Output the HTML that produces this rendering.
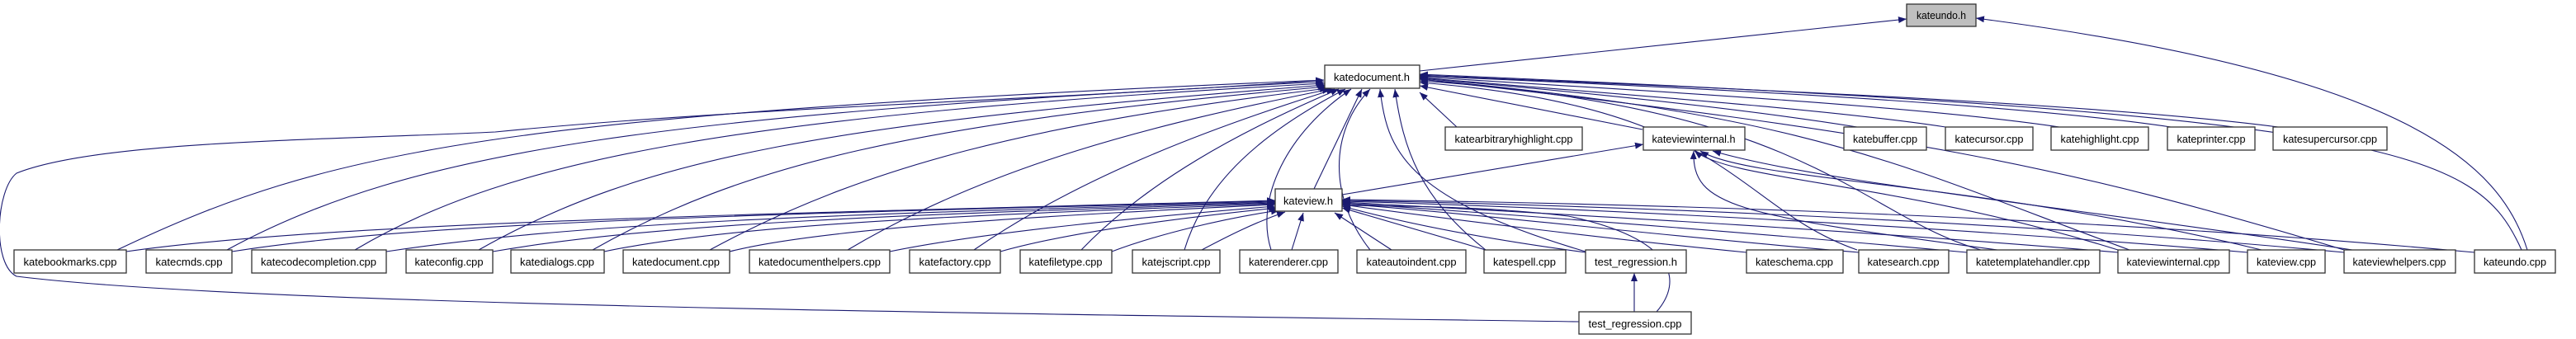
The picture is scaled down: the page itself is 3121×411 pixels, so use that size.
<!DOCTYPE html>
<html><head><meta charset="utf-8"><style>
html,body{margin:0;padding:0;background:#fff;}
svg{display:block;}
text{font-family:"Liberation Sans",sans-serif;font-size:13px;fill:#000;}
.b{fill:#fff;stroke:#333;stroke-width:1.3;}
.e{fill:none;stroke:#191970;stroke-width:1.1;}
</style></head><body>
<svg width="3121" height="411" viewBox="0 0 3121 411" xmlns="http://www.w3.org/2000/svg">
<defs><marker id="a" viewBox="0 0 10 8" refX="10" refY="4" markerWidth="10" markerHeight="8" markerUnits="userSpaceOnUse" orient="auto"><path d="M0,0L10,4L0,8z" fill="#191970"/></marker></defs>
<g class="e" marker-end="url(#a)">
<path d="M1720,86 L2310,23"/>
<path d="M3062,303 C3030,200 2920,90 2394,22"/>
<path d="M142,303 C400,180 600,140 1604,97"/>
<path d="M275,303 C500,180 800,140 1604,99"/>
<path d="M430,303 C620,190 900,140 1605,101"/>
<path d="M580,303 C780,190 1000,150 1606,103"/>
<path d="M718,303 C900,200 1100,150 1607,105"/>
<path d="M860,303 C1050,200 1250,150 1609,107"/>
<path d="M1027,303 C1200,200 1400,150 1612,108"/>
<path d="M1180,303 C1300,220 1450,160 1617,108"/>
<path d="M1310,303 C1390,220 1500,160 1622,108"/>
<path d="M1435,303 C1460,220 1530,160 1630,108"/>
<path d="M1540,303 C1520,240 1560,160 1637,108"/>
<path d="M1592,229 L1650,108"/>
<path d="M1660,303 C1610,240 1610,160 1660,108"/>
<path d="M1921,305 C1700,240 1680,180 1672,108"/>
<path d="M1800,303 C1720,240 1700,180 1690,108"/>
<path d="M1765,154 L1720,112"/>
<path d="M1990,157 L1720,104"/>
<path d="M2250,303 C2100,250 2100,130 1720,100"/>
<path d="M2400,303 C2250,260 2200,130 1720,98"/>
<path d="M2840,303 C2500,200 2300,160 1720,96"/>
<path d="M2250,154 C2100,130 1900,110 1720,95"/>
<path d="M2357,154 C2200,130 1900,110 1720,94"/>
<path d="M2495,154 C2300,125 1900,105 1720,93"/>
<path d="M2630,154 C2400,120 1900,100 1720,92"/>
<path d="M2760,154 C2500,120 1900,100 1720,91"/>
<path d="M2580,303 C2300,200 2200,140 1720,96"/>
<path d="M3055,303 C3000,180 2900,140 1720,90"/>
<path d="M1913,390 C1200,380 300,370 20,335 C-10,320 -5,230 20,210 C120,170 400,170 600,160 C900,130 1300,120 1604,97"/>
<path d="M1626,236 L1991,175"/>
<path d="M2566,303 C2300,220 2100,220 2053,183"/>
<path d="M2740,303 C2400,220 2120,220 2060,183"/>
<path d="M2420,303 C2100,260 2050,250 2052,183"/>
<path d="M2850,303 C2500,250 2200,220 2075,183"/>
<path d="M153,305 C400,270 900,260 1545,243"/>
<path d="M281,305 C500,270 900,260 1545,244"/>
<path d="M468,305 C700,270 1000,260 1545,245"/>
<path d="M597,305 C800,270 1100,260 1545,246"/>
<path d="M732,305 C900,270 1200,260 1545,247"/>
<path d="M884,305 C1000,275 1300,260 1545,248"/>
<path d="M1078,305 C1200,280 1400,262 1545,250"/>
<path d="M1212,305 C1300,280 1450,262 1547,252"/>
<path d="M1347,305 C1400,285 1480,265 1550,255"/>
<path d="M1456,303 C1490,285 1520,270 1557,257"/>
<path d="M1565,303 L1579,258"/>
<path d="M1686,303 L1617,258"/>
<path d="M1800,303 L1626,252"/>
<path d="M1921,306 C1800,290 1700,270 1626,250"/>
<path d="M2116,306 C1950,290 1750,265 1626,248"/>
<path d="M2252,306 C2000,285 1800,260 1626,247"/>
<path d="M2383,306 C2100,280 1800,258 1626,246"/>
<path d="M2566,306 C2200,275 1800,255 1626,245"/>
<path d="M2723,306 C2300,270 1850,250 1626,244"/>
<path d="M2840,306 C2400,265 1900,248 1626,243"/>
<path d="M2998,306 C2500,260 1950,246 1626,242"/>
<path d="M2007,378 C2040,340 2030,290 1900,262 C1800,250 1700,250 1626,249"/>
<path d="M1980,378 L1980,331"/>
</g>
<g>
<rect class="b" x="2310" y="5" width="84" height="27" style="fill:#bfbfbf"/><text x="2352" y="23" text-anchor="middle" textLength="60" lengthAdjust="spacingAndGlyphs">kateundo.h</text>
<rect class="b" x="1605" y="79" width="115" height="28"/><text x="1662" y="98" text-anchor="middle" textLength="92" lengthAdjust="spacingAndGlyphs">katedocument.h</text>
<rect class="b" x="1751" y="154" width="166" height="28"/><text x="1834" y="173" text-anchor="middle" textLength="143" lengthAdjust="spacingAndGlyphs">katearbitraryhighlight.cpp</text>
<rect class="b" x="1991" y="154" width="123" height="28"/><text x="2052" y="173" text-anchor="middle" textLength="101" lengthAdjust="spacingAndGlyphs">kateviewinternal.h</text>
<rect class="b" x="2234" y="154" width="100" height="28"/><text x="2284" y="173" text-anchor="middle" textLength="78" lengthAdjust="spacingAndGlyphs">katebuffer.cpp</text>
<rect class="b" x="2357" y="154" width="106" height="28"/><text x="2410" y="173" text-anchor="middle" textLength="83" lengthAdjust="spacingAndGlyphs">katecursor.cpp</text>
<rect class="b" x="2485" y="154" width="118" height="28"/><text x="2544" y="173" text-anchor="middle" textLength="95" lengthAdjust="spacingAndGlyphs">katehighlight.cpp</text>
<rect class="b" x="2626" y="154" width="106" height="28"/><text x="2679" y="173" text-anchor="middle" textLength="83" lengthAdjust="spacingAndGlyphs">kateprinter.cpp</text>
<rect class="b" x="2754" y="154" width="138" height="28"/><text x="2823" y="173" text-anchor="middle" textLength="114" lengthAdjust="spacingAndGlyphs">katesupercursor.cpp</text>
<rect class="b" x="1545" y="229" width="81" height="27"/><text x="1585" y="248" text-anchor="middle" textLength="60" lengthAdjust="spacingAndGlyphs">kateview.h</text>
<rect class="b" x="17" y="303" width="136" height="28"/><text x="85" y="322" text-anchor="middle" textLength="113" lengthAdjust="spacingAndGlyphs">katebookmarks.cpp</text>
<rect class="b" x="177" y="303" width="104" height="28"/><text x="229" y="322" text-anchor="middle" textLength="81" lengthAdjust="spacingAndGlyphs">katecmds.cpp</text>
<rect class="b" x="305" y="303" width="163" height="28"/><text x="386" y="322" text-anchor="middle" textLength="140" lengthAdjust="spacingAndGlyphs">katecodecompletion.cpp</text>
<rect class="b" x="492" y="303" width="105" height="28"/><text x="544" y="322" text-anchor="middle" textLength="83" lengthAdjust="spacingAndGlyphs">kateconfig.cpp</text>
<rect class="b" x="619" y="303" width="113" height="28"/><text x="675" y="322" text-anchor="middle" textLength="90" lengthAdjust="spacingAndGlyphs">katedialogs.cpp</text>
<rect class="b" x="755" y="303" width="129" height="28"/><text x="819" y="322" text-anchor="middle" textLength="106" lengthAdjust="spacingAndGlyphs">katedocument.cpp</text>
<rect class="b" x="908" y="303" width="170" height="28"/><text x="993" y="322" text-anchor="middle" textLength="148" lengthAdjust="spacingAndGlyphs">katedocumenthelpers.cpp</text>
<rect class="b" x="1102" y="303" width="110" height="28"/><text x="1157" y="322" text-anchor="middle" textLength="87" lengthAdjust="spacingAndGlyphs">katefactory.cpp</text>
<rect class="b" x="1236" y="303" width="111" height="28"/><text x="1291" y="322" text-anchor="middle" textLength="89" lengthAdjust="spacingAndGlyphs">katefiletype.cpp</text>
<rect class="b" x="1372" y="303" width="106" height="28"/><text x="1425" y="322" text-anchor="middle" textLength="83" lengthAdjust="spacingAndGlyphs">katejscript.cpp</text>
<rect class="b" x="1502" y="303" width="119" height="28"/><text x="1561" y="322" text-anchor="middle" textLength="96" lengthAdjust="spacingAndGlyphs">katerenderer.cpp</text>
<rect class="b" x="1644" y="303" width="132" height="28"/><text x="1710" y="322" text-anchor="middle" textLength="109" lengthAdjust="spacingAndGlyphs">kateautoindent.cpp</text>
<rect class="b" x="1798" y="303" width="99" height="28"/><text x="1847" y="322" text-anchor="middle" textLength="76" lengthAdjust="spacingAndGlyphs">katespell.cpp</text>
<rect class="b" x="1921" y="303" width="122" height="28"/><text x="1982" y="322" text-anchor="middle" textLength="100" lengthAdjust="spacingAndGlyphs">test_regression.h</text>
<rect class="b" x="2116" y="303" width="117" height="28"/><text x="2174" y="322" text-anchor="middle" textLength="94" lengthAdjust="spacingAndGlyphs">kateschema.cpp</text>
<rect class="b" x="2252" y="303" width="109" height="28"/><text x="2306" y="322" text-anchor="middle" textLength="87" lengthAdjust="spacingAndGlyphs">katesearch.cpp</text>
<rect class="b" x="2383" y="303" width="161" height="28"/><text x="2463" y="322" text-anchor="middle" textLength="138" lengthAdjust="spacingAndGlyphs">katetemplatehandler.cpp</text>
<rect class="b" x="2566" y="303" width="135" height="28"/><text x="2633" y="322" text-anchor="middle" textLength="113" lengthAdjust="spacingAndGlyphs">kateviewinternal.cpp</text>
<rect class="b" x="2723" y="303" width="94" height="28"/><text x="2770" y="322" text-anchor="middle" textLength="72" lengthAdjust="spacingAndGlyphs">kateview.cpp</text>
<rect class="b" x="2840" y="303" width="135" height="28"/><text x="2907" y="322" text-anchor="middle" textLength="113" lengthAdjust="spacingAndGlyphs">kateviewhelpers.cpp</text>
<rect class="b" x="2998" y="303" width="98" height="28"/><text x="3047" y="322" text-anchor="middle" textLength="76" lengthAdjust="spacingAndGlyphs">kateundo.cpp</text>
<rect class="b" x="1913" y="378" width="136" height="27"/><text x="1981" y="397" text-anchor="middle" textLength="113" lengthAdjust="spacingAndGlyphs">test_regression.cpp</text>
</g>
</svg>
</body></html>
